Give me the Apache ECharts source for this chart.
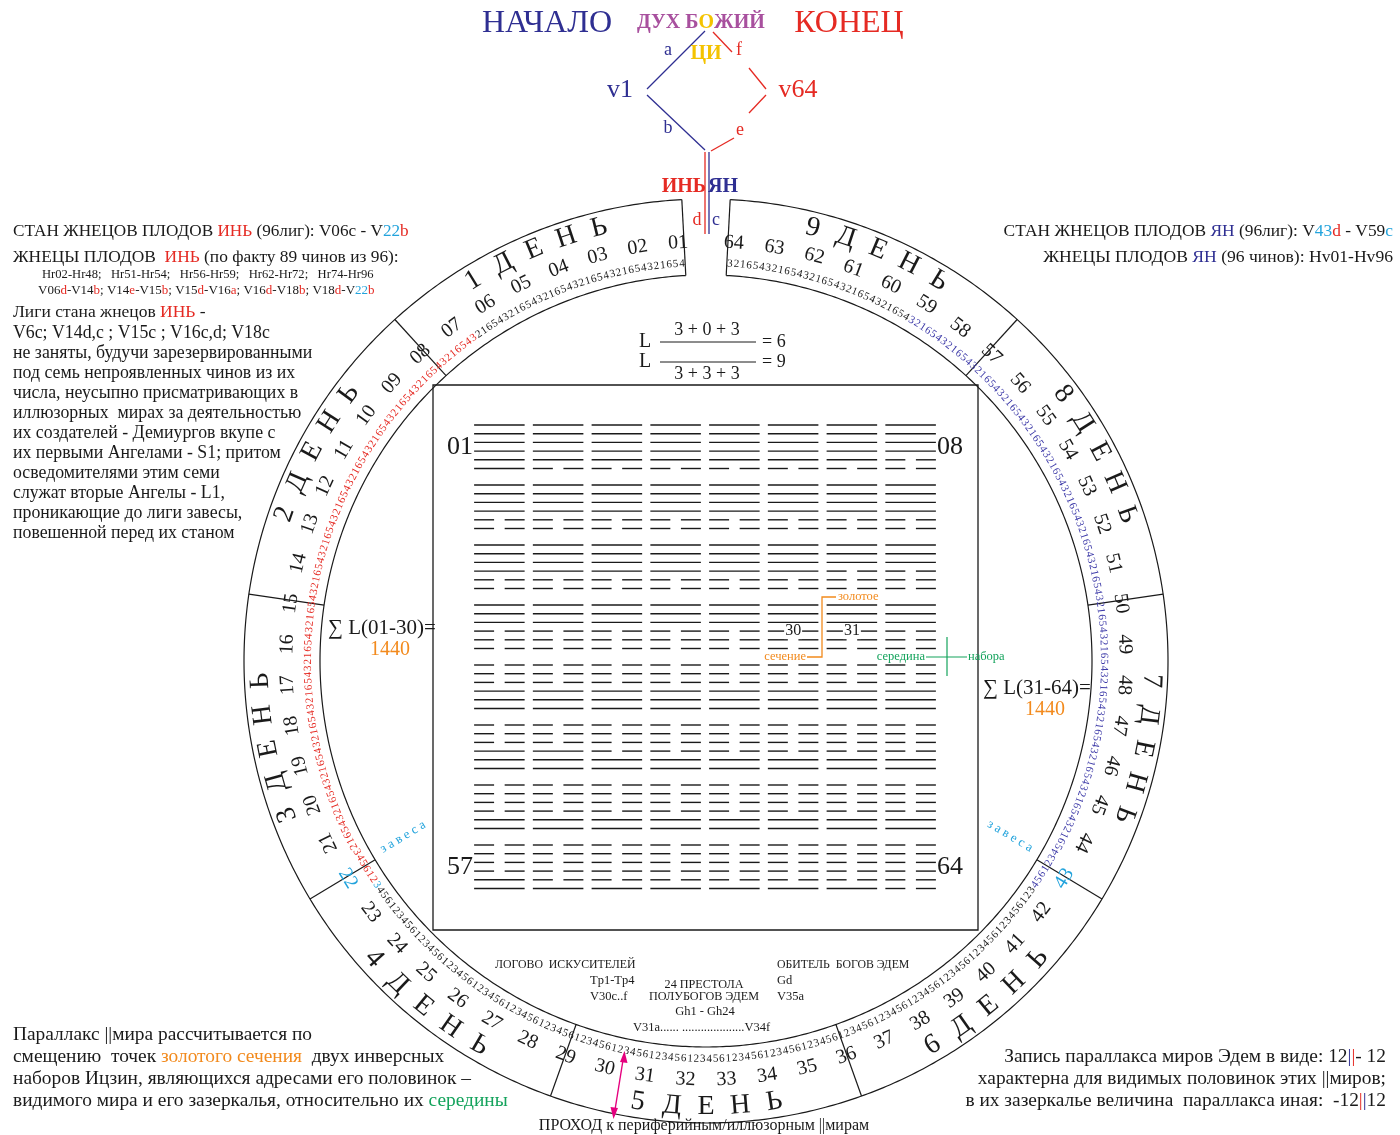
<!DOCTYPE html>
<html><head><meta charset="utf-8">
<script src="https://cdn.jsdelivr.net/npm/echarts/dist/echarts.min.js"></script>
<style>html,body{margin:0;padding:0;background:#fff}#c{width:1400px;height:1135px}</style>
</head><body><div id="c"></div>
<script>
// ---------------- DATA ----------------
const hexNumbers = ['01','02','03','04','05','06','07','08','09','10','11','12','13','14','15','16',
  '17','18','19','20','21','22','23','24','25','26','27','28','29','30','31','32',
  '33','34','35','36','37','38','39','40','41','42','43','44','45','46','47','48',
  '49','50','51','52','53','54','55','56','57','58','59','60','61','62','63','64'];
// hexagram lines, top to bottom: 1 = solid, 0 = broken
const hexagrams = [
  '111111','111110','111110','111110','111110','111110','111110','111100',
  '111100','111100','111100','111100','111100','111100','111100','111100',
  '111100','111100','111100','111100','111100','111100','111000','111000',
  '111000','111000','111000','111000','111000','111000','111000','111000',
  '000111','000111','000111','000111','000111','000111','000111','000111',
  '000111','000111','000011','000011','000011','000011','000011','000011',
  '000011','000011','000011','000011','000011','000011','000011','000011',
  '000011','000001','000001','000001','000001','000001','000001','000000'];
const lineDigits = ['4','5','6','1','2','3'];           // digits of each hexagram along the ring
const dayNumbers = ['1','2','3','4','5','6','7','8','9'];
const dayWord = ['Д','Е','Н','Ь'];
const yinRange = [35, 130];   // V06c .. V22b  (digit indices)
const yangRange = [252, 353]; // V43d .. V59c
const accentNumbers = ['22','43'];
const markedHex = ['30','31'];

// ---------------- STYLE ----------------
const FF = '"Liberation Serif","Times New Roman",serif';
const INK = '#1a1a1a', RED = '#e52a23', BLUE = '#2f2f92', CYAN = '#22a3dc', ORANGE = '#f28a1d',
      GREEN = '#14a35c', MAG = '#a8509e', YEL = '#f4c300', PINK = '#e5007e', DIGBLUE = '#3d3aa8';
const R_OUT = 462, R_IN = 386, R_DAY = 446, R_NUM = 419, R_DIG = 398, GAP = 3;
const DAY_SPAN = (360 - 2 * GAP) / 9;

function orient(a){ return (a > 118 && a < 242) ? a - 180 : a; }
function rad(d){ return d * Math.PI / 180; }

function rt(x, y, segs, fs, align, opts){
  opts = opts || {};
  const rich = {}; let text = '';
  segs.forEach((s, i) => {
    const k = 's' + i;
    rich[k] = {fill: s[1] || INK, fontSize: fs, fontFamily: FF, fontWeight: opts.bold ? 'bold' : 'normal'};
    text += '{' + k + '|' + s[0] + '}';
  });
  return {type: 'text', x: x, y: y, rotation: opts.rot || 0, scaleX: opts.sx || 1, silent: true, z: 10,
    style: {text: text, rich: rich, fontSize: fs, fontFamily: FF, fill: INK,
            align: align || 'left', verticalAlign: 'middle'}};
}
function ln(x1, y1, x2, y2, color, w){
  return {type: 'line', silent: true, z: 5, shape: {x1, y1, x2, y2}, style: {stroke: color || INK, lineWidth: w || 1.2}};
}
function pl(points, color, w){
  return {type: 'polyline', silent: true, z: 5, shape: {points}, style: {stroke: color || INK, lineWidth: w || 1.2, fill: null}};
}

// ---------------- SERIES ----------------
const ringSeries = {
  type: 'custom', coordinateSystem: 'polar', polarIndex: 0, silent: true, data: [[0, 0]],
  renderItem: (p, api) => {
    const ch = [];
    [R_OUT, R_IN].forEach(r => {
      const pts = [];
      for (let a = GAP; a <= 360 - GAP + 1e-6; a += 0.5) pts.push(api.coord([r, a]));
      ch.push({type: 'polyline', shape: {points: pts}, style: {stroke: INK, lineWidth: 1.2, fill: null}});
    });
    for (let k = 0; k <= 9; k++) {
      const a = GAP + k * DAY_SPAN;
      const p1 = api.coord([R_IN, a]), p2 = api.coord([R_OUT, a]);
      ch.push({type: 'line', shape: {x1: p1[0], y1: p1[1], x2: p2[0], y2: p2[1]}, style: {stroke: INK, lineWidth: 1.2}});
    }
    return {type: 'group', children: ch};
  }
};

const numberSeries = {
  type: 'custom', coordinateSystem: 'polar', polarIndex: 0, silent: true,
  data: hexNumbers.map((s, i) => [R_NUM, 1 + (i + 0.5) * 358 / hexNumbers.length, i]),
  renderItem: (p, api) => {
    const a = api.value(1), i = api.value(2);
    const pt = api.coord([api.value(0), a]);
    const s = hexNumbers[i];
    return {type: 'text', x: pt[0], y: pt[1], rotation: rad(orient(a)),
      style: {text: s, fill: accentNumbers.includes(s) ? CYAN : INK, fontSize: 20, fontFamily: FF,
              align: 'center', verticalAlign: 'middle'}};
  }
};

const digitData = [];
hexagrams.forEach((h, n) => lineDigits.forEach((d, j) => digitData.push([R_DIG, 0, n * 6 + j])));
const N_DIG = digitData.length;
digitData.forEach(d => { d[1] = GAP + (d[2] + 0.5) * (360 - 2 * GAP) / N_DIG; });
const digitSeries = {
  type: 'custom', coordinateSystem: 'polar', polarIndex: 0, silent: true, data: digitData,
  renderItem: (p, api) => {
    const a = api.value(1), k = api.value(2);
    const pt = api.coord([api.value(0), a]);
    let c = INK;
    if (k >= yinRange[0] && k <= yinRange[1]) c = RED;
    if (k === yinRange[1] + 1) c = CYAN;
    if (k >= yangRange[0] && k <= yangRange[1]) c = DIGBLUE;
    return {type: 'text', x: pt[0], y: pt[1], rotation: rad(orient(a)),
      style: {text: lineDigits[k % 6], fill: c, fontSize: 11, fontFamily: FF, align: 'center', verticalAlign: 'middle'}};
  }
};

const daySeries = {
  type: 'custom', coordinateSystem: 'polar', polarIndex: 0, silent: true,
  data: dayNumbers.map((d, k) => [R_DAY, GAP + (k + 0.5) * DAY_SPAN, k]),
  renderItem: (p, api) => {
    const ac = api.value(1), k = api.value(2);
    const chars = [dayNumbers[k]].concat(dayWord);
    const bottom = ac > 118 && ac < 242;
    const step = 4.4;
    const ch = chars.map((c, i) => {
      const a = ac + (bottom ? 1 : -1) * (i - 2) * step;
      const pt = api.coord([api.value(0), a]);
      return {type: 'text', x: pt[0], y: pt[1], rotation: rad(orient(a)),
        style: {text: c, fill: INK, fontSize: 28, fontFamily: FF, align: 'center', verticalAlign: 'middle'}};
    });
    return {type: 'group', children: ch};
  }
};

function lineY(row, j){ return row + (10 + 8.7 * j) / 60; }
const hexSeries = {
  type: 'custom', coordinateSystem: 'cartesian2d', xAxisIndex: 0, yAxisIndex: 0, silent: true,
  data: hexagrams.map((h, i) => [i % 8, Math.floor(i / 8), i]),
  renderItem: (p, api) => {
    const c = api.value(0), r = api.value(1), i = api.value(2);
    const h = hexagrams[i];
    const ch = [];
    for (let j = 0; j < 6; j++) {
      const y = lineY(r, j);
      const segs = h[j] === '1' ? [[0.07, 0.93]] : [[0.07, 0.41], [0.59, 0.93]];
      segs.forEach(s => {
        const a = api.coord([c + s[0], y]), b = api.coord([c + s[1], y]);
        ch.push({type: 'line', shape: {x1: a[0], y1: a[1], x2: b[0], y2: b[1]}, style: {stroke: INK, lineWidth: 1.4}});
      });
    }
    const s = hexNumbers[i];
    if ((c === 0 || c === 7) && (r === 0 || r === 7)) {
      const pt = api.coord([c === 0 ? c + 0.05 : c + 0.95, lineY(r, 2.6)]);
      ch.push({type: 'text', x: pt[0], y: pt[1],
        style: {text: s, fill: INK, fontSize: 26, fontFamily: FF, align: c === 0 ? 'right' : 'left', verticalAlign: 'middle'}});
    }
    if (markedHex.includes(s)) {
      const pt = api.coord([c + 0.5, lineY(r, 3)]);
      ch.push({type: 'text', x: pt[0], y: pt[1], z2: 5,
        style: {text: s, fill: INK, fontSize: 16, fontFamily: FF, align: 'center', verticalAlign: 'middle',
                backgroundColor: '#fff', padding: [0, 1]}});
    }
    return {type: 'group', children: ch};
  }
};

// ---------------- GRAPHIC (texts & decorations) ----------------
const G = [];
// top diagram
G.push(rt(547, 24, [['НАЧАЛО', BLUE]], 32, 'center'));
G.push(rt(701, 23, [['ДУХ Б', MAG], ['О', YEL], ['ЖИЙ', MAG]], 20, 'center', {bold: true}));
G.push(rt(849, 24, [['КОНЕЦ', RED]], 32, 'center'));
G.push(pl([[705, 31], [647, 89]], BLUE, 1.3));
G.push(pl([[647, 95], [705, 150]], BLUE, 1.3));
G.push(pl([[713, 32], [732, 52]], RED, 1.3));
G.push(pl([[749, 68], [766, 89]], RED, 1.3));
G.push(pl([[766, 95], [749, 113]], RED, 1.3));
G.push(pl([[734, 138], [711, 151]], RED, 1.3));
G.push(rt(668, 50, [['a', BLUE]], 18, 'center'));
G.push(rt(706, 54, [['ЦИ', YEL]], 20, 'center', {bold: true}));
G.push(rt(739, 50, [['f', RED]], 18, 'center'));
G.push(rt(620, 90, [['v1', BLUE]], 26, 'center'));
G.push(rt(798, 90, [['v64', RED]], 26, 'center'));
G.push(rt(668, 128, [['b', BLUE]], 18, 'center'));
G.push(rt(740, 130, [['e', RED]], 18, 'center'));
G.push(ln(705, 152, 705, 234, RED, 1.3));
G.push(ln(709, 152, 709, 234, BLUE, 1.3));
G.push(rt(706, 187, [['ИНЬ', RED]], 20, 'right', {bold: true}));
G.push(rt(708, 187, [['ЯН', BLUE]], 20, 'left', {bold: true}));
G.push(rt(697, 220, [['d', RED]], 18, 'center'));
G.push(rt(716, 220, [['c', BLUE]], 18, 'center'));

// top-left block
G.push(rt(13, 231, [['СТАН ЖНЕЦОВ ПЛОДОВ '], ['ИНЬ', RED], [' (96лиг): V06c - V'], ['22', CYAN], ['b', RED]], 17.2, 'left'));
G.push(rt(13, 257, [['ЖНЕЦЫ ПЛОДОВ  '], ['ИНЬ', RED], [' (по факту 89 чинов из 96):']], 17.4, 'left'));
G.push(rt(42, 275, [['Hr02-Hr48;   Hr51-Hr54;   Hr56-Hr59;   Hr62-Hr72;   Hr74-Hr96']], 12.6, 'left'));
G.push(rt(38, 291, [['V06'], ['d', RED], ['-V14'], ['b', RED], ['; V14'], ['e', RED], ['-V15'], ['b', RED], ['; V15'], ['d', RED],
  ['-V16'], ['a', RED], ['; V16'], ['d', RED], ['-V18'], ['b', RED], ['; V18'], ['d', RED], ['-V'], ['22', CYAN], ['b', RED]], 13, 'left'));
G.push(rt(13, 312, [['Лиги стана жнецов '], ['ИНЬ', RED], [' -']], 17.5, 'left'));
const leftLines = ['V6c; V14d,c ; V15c ; V16c,d; V18c', 'не заняты, будучи зарезервированными', 'под семь непроявленных чинов из их',
  'числа, неусыпно присматривающих в', 'иллюзорных  мирах за деятельностью', 'их создателей - Демиургов вкупе с',
  'их первыми Ангелами - S1; притом', 'осведомителями этим семи', 'служат вторые Ангелы - L1,',
  'проникающие до лиги завесы,', 'повешенной перед их станом'];
leftLines.forEach((t, i) => G.push(rt(13, 333 + i * 20, [[t]], 17.8, 'left')));

// top-right block
G.push(rt(1393, 231, [['СТАН ЖНЕЦОВ ПЛОДОВ '], ['ЯН', BLUE], [' (96лиг): V'], ['43', CYAN], ['d', RED], [' - V59'], ['c', CYAN]], 17.4, 'right'));
G.push(rt(1393, 257, [['ЖНЕЦЫ ПЛОДОВ '], ['ЯН', BLUE], [' (96 чинов): Hv01-Hv96']], 17.6, 'right'));

// bottom-left block
G.push(rt(13, 1035, [['Параллакс ||мира рассчитывается по']], 19.4, 'left'));
G.push(rt(13, 1057, [['смещению  точек '], ['золотого сечения', ORANGE], ['  двух инверсных']], 19.4, 'left'));
G.push(rt(13, 1079, [['наборов Ицзин, являющихся адресами его половинок –']], 19.4, 'left'));
G.push(rt(13, 1101, [['видимого мира и его зазеркалья, относительно их '], ['середины', GREEN]], 19.4, 'left'));

// bottom-right block
G.push(rt(1386, 1057, [['Запись параллакса миров Эдем в виде: 12'], ['|', BLUE], ['|', RED], ['- 12']], 19.4, 'right'));
G.push(rt(1386, 1079, [['характерна для видимых половинок этих ||миров;']], 19.4, 'right'));
G.push(rt(1386, 1101, [['в их зазеркалье величина  параллакса иная:  -12'], ['|', RED], ['|', BLUE], ['12']], 19.4, 'right'));

// bottom centre labels
G.push(rt(495, 965, [['ЛОГОВО  ИСКУСИТЕЛЕЙ']], 11.8, 'left'));
G.push(rt(590, 981, [['Tp1-Tp4']], 12.5, 'left'));
G.push(rt(590, 997, [['V30c..f']], 12.5, 'left'));
G.push(rt(704, 985, [['24 ПРЕСТОЛА']], 12.2, 'center'));
G.push(rt(704, 997, [['ПОЛУБОГОВ ЭДЕМ']], 12.2, 'center'));
G.push(rt(705, 1012, [['Gh1 - Gh24']], 12.5, 'center'));
G.push(rt(777, 965, [['ОБИТЕЛЬ  БОГОВ ЭДЕМ']], 11.8, 'left'));
G.push(rt(777, 981, [['Gd']], 12.5, 'left'));
G.push(rt(777, 997, [['V35a']], 12.5, 'left'));
G.push(rt(633, 1028, [['V31a...... ....................V34f']], 12.5, 'left'));
G.push(rt(704, 1126, [['ПРОХОД к периферийным/иллюзорным ||мирам']], 16, 'center'));
// pink arrow
G.push(pl([[624, 1054], [614, 1116]], PINK, 1.4));
G.push({type: 'polygon', silent: true, z: 6, shape: {points: [[624.5, 1051], [620, 1062], [627.5, 1063]]}, style: {fill: PINK}});
G.push({type: 'polygon', silent: true, z: 6, shape: {points: [[613.5, 1119], [610.5, 1107], [618, 1108]]}, style: {fill: PINK}});

// sums
G.push(rt(328, 628, [['∑ L(01-30)=']], 21, 'left'));
G.push(rt(390, 650, [['1440', ORANGE]], 20, 'center'));
G.push(rt(983, 688, [['∑ L(31-64)=']], 21, 'left'));
G.push(rt(1045, 710, [['1440', ORANGE]], 20, 'center'));

// formula
G.push(rt(645, 342, [['L']], 20, 'center'));
G.push(rt(645, 362, [['L']], 20, 'center'));
G.push(rt(707, 330, [['3 + 0 + 3']], 18, 'center'));
G.push(rt(707, 374, [['3 + 3 + 3']], 18, 'center'));
G.push(ln(660, 342, 756, 342, INK, 1));
G.push(ln(660, 362, 756, 362, INK, 1));
G.push(rt(762, 342, [['= 6']], 18, 'left'));
G.push(rt(762, 362, [['= 9']], 18, 'left'));

// central square
G.push({type: 'rect', silent: true, z: 4, shape: {x: 433, y: 385, width: 545, height: 545}, style: {stroke: INK, lineWidth: 1.3, fill: null}});

// golden section & middle markers
G.push(pl([[836, 597], [822, 597], [822, 657], [807, 657]], ORANGE, 1.3));
G.push(rt(838, 597, [['золотое', ORANGE]], 12.5, 'left'));
G.push(rt(806, 657, [['сечение', ORANGE]], 12.5, 'right'));
G.push(ln(926, 657, 967, 657, GREEN, 1.2));
G.push(ln(947, 637, 947, 676, GREEN, 1.2));
G.push(rt(925, 657, [['середина', GREEN]], 12.5, 'right'));
G.push(rt(968, 657, [['набора', GREEN]], 12.5, 'left'));

// curtains
G.push(rt(403, 837, [['з а в е с а', CYAN]], 13, 'center', {rot: rad(31)}));
G.push(rt(1010, 836, [['з а в е с а', CYAN]], 13, 'center', {rot: rad(-31)}));

// ---------------- CHART ----------------
const chart = echarts.init(document.getElementById('c'), null, {renderer: 'canvas'});
chart.setOption({
  animation: false,
  backgroundColor: '#fff',
  polar: [{center: [706, 661], radius: R_OUT}],
  radiusAxis: [{polarIndex: 0, type: 'value', min: 0, max: R_OUT, show: false}],
  angleAxis: [{polarIndex: 0, type: 'value', min: 0, max: 360, startAngle: 90, clockwise: false, show: false}],
  grid: [{left: 470, top: 415, width: 470, height: 480}],
  xAxis: [{gridIndex: 0, type: 'value', min: 0, max: 8, show: false}],
  yAxis: [{gridIndex: 0, type: 'value', min: 0, max: 8, inverse: true, show: false}],
  series: [ringSeries, numberSeries, digitSeries, daySeries, hexSeries],
  graphic: G
});
</script></body></html>
